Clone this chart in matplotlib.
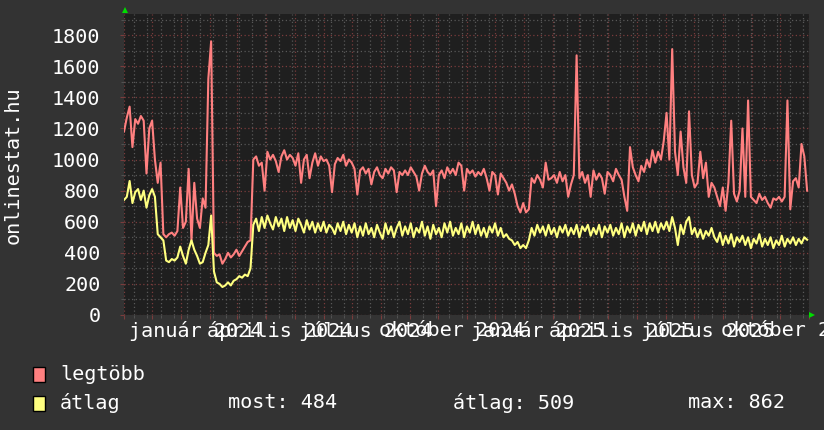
import numpy as np
import pandas as pd
import matplotlib
matplotlib.use('Agg')
import matplotlib.pyplot as plt
import matplotlib.dates as mdates
import matplotlib.transforms as mtransforms
from matplotlib.patches import Rectangle

# time axis: one value every 3 days
start_date = '2023-11-01'
end_date = '2025-11-01'
step_days = 3

legtobb = [
    1180, 1270, 1340, 1080, 1260, 1230, 1280, 1250, 910, 1200,
    1250, 1000, 850, 980, 520, 500, 520, 530, 510, 540,
    820, 560, 600, 940, 480, 850, 620, 560, 750, 690,
    1520, 1760, 400, 380, 390, 330, 360, 400, 370, 390,
    420, 380, 410, 440, 470, 480, 1000, 1020, 960, 980,
    800, 1050, 1000, 1030, 990, 920, 1020, 1060, 1000, 1030,
    1010, 960, 1040, 850, 1000, 1030, 880, 980, 1040, 960,
    1020, 990, 1000, 960, 790, 970, 1010, 990, 1030, 960,
    1000, 980, 940, 775, 930, 950, 910, 940, 840, 920,
    950, 900, 880, 940, 910, 950, 930, 790, 920, 900,
    930, 900, 950, 920, 890, 800, 910, 960, 920, 900,
    930, 700, 900, 930, 880, 950, 910, 940, 900, 980,
    960, 800, 940, 910, 930, 890, 920, 900, 940, 880,
    800, 920, 900, 775, 910, 880, 850, 800, 840, 780,
    700, 660, 720, 660, 680, 880, 850, 900, 870, 820,
    980, 870, 880, 900, 850, 920, 860, 900, 760, 840,
    900, 1670, 880, 920, 850, 900, 760, 930, 870, 910,
    880, 780, 920, 900, 860, 940, 900, 870, 760, 670,
    1080, 950, 900, 860, 960, 920, 1000, 950, 1060, 980,
    1050, 1000, 1120, 1300, 1000, 1710, 1050, 900, 1180, 950,
    850, 1310, 900, 820, 850, 1050, 880, 980, 760, 850,
    820, 760, 700, 820, 670, 850, 1250, 780, 730, 800,
    1200, 760, 1380, 760, 740, 720, 780, 740, 760, 720,
    690, 750, 740, 760, 730, 760, 1380, 680, 860, 880,
    820, 1100, 1020, 800,
]

atlag = [
    740, 760, 862, 720, 790, 810, 740, 800, 690, 770,
    810, 760, 520, 500, 480, 350, 340, 360, 350, 370,
    440, 380, 330, 420, 480, 420, 380, 330, 340, 400,
    450, 640, 280, 210, 200, 180, 190, 210, 190, 220,
    230, 250, 240, 260, 250, 300, 580, 620, 540, 630,
    560, 640, 590, 550, 630, 570, 620, 540, 630, 560,
    610, 540, 620, 580, 530, 610, 550, 600, 530, 590,
    540, 600, 530, 580, 560, 520, 590, 540, 600, 520,
    580, 530, 590, 500, 570, 510, 590, 520, 560, 500,
    580, 530, 490, 590, 520, 570, 500, 560, 600, 510,
    570, 520, 590, 500, 560, 530, 600, 510, 570, 490,
    580, 520, 560, 500, 590, 530, 600, 510, 560, 520,
    590, 500, 570, 530, 600, 520, 580, 510, 560, 500,
    570, 530, 590, 510, 560, 500, 520, 490, 480, 450,
    470, 430, 450, 430, 480, 560, 510, 580, 530, 570,
    510, 580, 520, 560, 500, 570, 530, 580, 510, 560,
    520, 580, 500, 570, 540, 580, 510, 560, 520, 580,
    500, 570, 530, 580, 510, 560, 520, 590, 500, 570,
    530, 590, 510, 580, 540, 600, 520, 590, 540, 600,
    530, 590, 550, 600, 540, 630, 560, 450, 580, 520,
    600, 630, 520, 560, 500, 550, 490, 540, 510, 560,
    500, 470, 530, 450, 510, 460, 520, 440, 500, 470,
    510, 450, 500, 430, 490, 460, 520, 440, 490, 450,
    500, 430, 480, 450, 510, 440, 490, 460, 500, 450,
    490, 460, 500, 484,
]

x_labels = ['január 2024', 'április 2024', 'július 2024', 'október 2024',
            'január 2025', 'április 2025', 'július 2025', 'október 2025']
x_label_dates = ['2024-01-16', '2024-04-15', '2024-07-16', '2024-10-16',
                 '2025-01-16', '2025-04-15', '2025-07-16', '2025-10-16']
y_ticks = [0, 200, 400, 600, 800, 1000, 1200, 1400, 1600, 1800]
series_names = ['legtöbb', 'átlag']
stat_texts = ['most: 484', 'átlag: 509', 'max: 862']

dates = pd.date_range(start_date, periods=len(legtobb), freq=f'{step_days}D')

bg = '#333333'
plot_bg = '#1f1f1f'
red = '#ff8080'
yellow = '#ffff80'
minor_grid = '#585858'
major_grid = '#7a3c3c'
mono = 'DejaVu Sans Mono'
fs = 14.5

W, H = 824, 430
fig = plt.figure(figsize=(W / 100, H / 100), dpi=100, facecolor=bg)
ax = fig.add_axes([124 / W, 1 - 315 / H, 685 / W, 301 / H])
ax.set_facecolor(plot_bg)
for s in ax.spines.values():
    s.set_visible(False)

ax.set_xlim(pd.Timestamp(start_date), pd.Timestamp(end_date))
ax.set_ylim(0, 1936)

# grid: minor every 100 / 14 days, major every 200 / month
ax.yaxis.set_major_locator(plt.FixedLocator(y_ticks))
ax.yaxis.set_minor_locator(plt.MultipleLocator(100))
ax.xaxis.set_major_locator(mdates.MonthLocator())
minor_days = pd.date_range('2023-11-12', end_date, freq='14D')
ax.xaxis.set_minor_locator(plt.FixedLocator(mdates.date2num(minor_days)))
ax.grid(which='minor', color=minor_grid, linestyle=(0, (1, 2)), lw=0.9)
ax.grid(which='major', color=major_grid, linestyle=(0, (1, 2)), lw=0.9)
ax.set_axisbelow(True)
ax.tick_params(which='major', direction='out', length=3, color=major_grid,
               labelcolor='white', labelsize=fs, pad=14)
ax.tick_params(which='minor', direction='out', length=2, color=minor_grid)
ax.tick_params(axis='x', labelbottom=False)
for lab in ax.get_yticklabels():
    lab.set_fontfamily(mono)

ax.plot(dates, legtobb, color=red, lw=1.5)
ax.plot(dates, atlag, color=yellow, lw=1.5)

# x labels, centered in the labelled month
trans = mtransforms.blended_transform_factory(ax.transData, fig.transFigure)
for lab, d in zip(x_labels, x_label_dates):
    ax.text(mdates.date2num(pd.Timestamp(d)), 1 - 331 / H, lab, transform=trans,
            ha='center', va='center', color='white', fontsize=fs,
            family=mono, clip_on=False)

# green arrows
ax.plot([0.0015], [1.014], marker='^', color='#00dd00', ms=5, mew=0,
        transform=ax.transAxes, clip_on=False)
ax.plot([1.005], [0.0], marker='>', color='#00dd00', ms=5, mew=0,
        transform=ax.transAxes, clip_on=False)

fig.text(13 / W, 1 - 165 / H, 'onlinestat.hu', rotation=90, ha='center',
         va='center', color='white', fontsize=fs, family=mono)

# legend
for name, col, yc in zip(series_names, [red, yellow], [374, 403]):
    fig.add_artist(Rectangle((33 / W, 1 - (yc + 7.5) / H), 12 / W, 15 / H,
                             facecolor=col, edgecolor='black', lw=1,
                             transform=fig.transFigure))
    fig.text(60 / W, 1 - yc / H, name, ha='left', va='center', color='white',
             fontsize=fs, family=mono)
for txt, xs in zip(stat_texts, [228, 453, 688]):
    fig.text(xs / W, 1 - 403 / H, txt, ha='left', va='center', color='white',
             fontsize=fs, family=mono)

fig.savefig('out.png', dpi=100, facecolor=bg)
